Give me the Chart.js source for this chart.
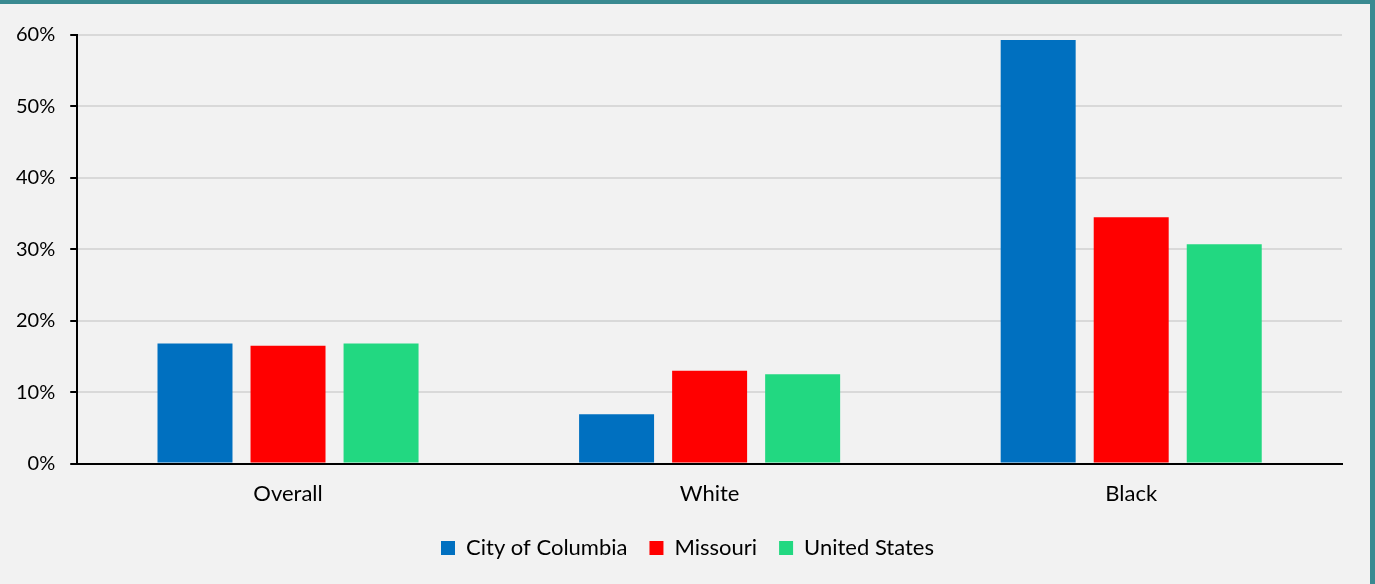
<!DOCTYPE html>
<html>
<head>
<meta charset="utf-8">
<script src="https://cdn.jsdelivr.net/npm/chart.js@4.4.0/dist/chart.umd.min.js"></script>
<style>
  html, body { margin: 0; padding: 0; background: #f2f2f2; }
  #wrap {
    width: 1375px; height: 584px; box-sizing: border-box;
    border-top: 4px solid #3a8a91; border-right: 5px solid #3a8a91;
    background: #f2f2f2;
  }
  #wrap div { width: 1370px; height: 580px; }
</style>
</head>
<body>
<div id="wrap"><div><canvas id="barChart"></canvas></div></div>
<script>
const categories = ["Overall", "White", "Black"];
const columbia = [16.8, 6.9, 59.3];
const missouri = [16.5, 13.0, 34.5];
const unitedStates = [16.8, 12.5, 30.7];
const yTicks = [0, 10, 20, 30, 40, 50, 60];

Chart.defaults.font.family = "Lato, 'Open Sans', sans-serif";
Chart.defaults.font.size = 20;
Chart.defaults.color = "#000";

// legend is centred on the whole page in the original, not on the plot
const shiftLegend = {
  id: 'shiftLegend',
  afterLayout(chart) {
    chart.legend.left += 16;
    chart.legend.right += 16;
  }
};

const CHART = document.getElementById("barChart");

let barChart = new Chart(CHART, {
  type: 'bar',
  data: {
    labels: categories,
    datasets: [
      { label: "City of Columbia", data: columbia, backgroundColor: "#0070c0" },
      { label: "Missouri", data: missouri, backgroundColor: "#ff0000" },
      { label: "United States", data: unitedStates, backgroundColor: "#22d881" }
    ]
  },
  plugins: [shiftLegend],
  options: {
    responsive: true,
    maintainAspectRatio: false,
    animation: false,
    categoryPercentage: 0.662,
    barPercentage: 0.806,
    layout: { padding: { left: 1, right: 28, top: 31, bottom: 15 } },
    plugins: {
      tooltip: { enabled: false },
      legend: {
        position: 'bottom',
        labels: {
          boxWidth: 14,
          boxHeight: 14,
          padding: 22,
          color: "#000",
          font: { size: 22 }
        }
      }
    },
    scales: {
      x: {
        afterFit: (axis) => { axis.height -= 9; },
        grid: { display: true, drawOnChartArea: false, drawTicks: false },
        border: { display: true, color: "#000", width: 2 },
        ticks: { padding: 17, color: "#000", font: { size: 22 } }
      },
      y: {
        min: 0,
        max: 60,
        afterBuildTicks: (axis) => { axis.ticks = yTicks.map(v => ({ value: v })); },
        grid: { color: "#d9d9d9", lineWidth: 2, tickColor: "#000", tickLength: 7 },
        border: { display: true, color: "#000", width: 2 },
        ticks: {
          padding: 15,
          color: "#000",
          callback: (v) => v + "%"
        }
      }
    }
  }
});
</script>
</body>
</html>
